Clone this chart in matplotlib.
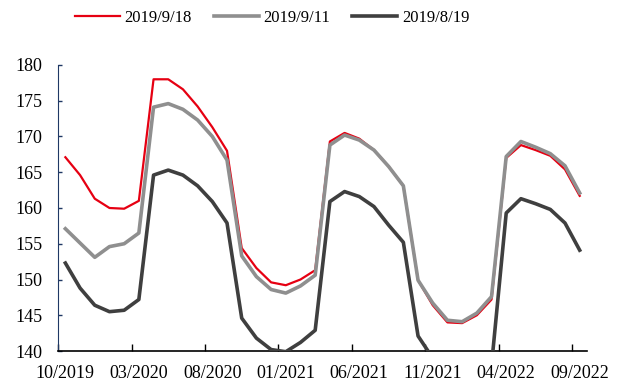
import matplotlib
matplotlib.use("Agg")
import matplotlib.pyplot as plt
import numpy as np

plt.rcParams["font.family"] = ["Liberation Serif", "DejaVu Serif"]

months = [
    "10/2019", "11/2019", "12/2019", "01/2020", "02/2020", "03/2020", "04/2020", "05/2020", "06/2020",
    "07/2020", "08/2020", "09/2020", "10/2020", "11/2020", "12/2020", "01/2021", "02/2021", "03/2021",
    "04/2021", "05/2021", "06/2021", "07/2021", "08/2021", "09/2021", "10/2021", "11/2021", "12/2021",
    "01/2022", "02/2022", "03/2022", "04/2022", "05/2022", "06/2022", "07/2022", "08/2022", "09/2022",
]

red_0918 = [
    167.1, 164.6, 161.3, 160.0, 159.9, 161.0, 178.0, 178.0, 176.6, 174.2, 171.3, 168.0,
    154.4, 151.6, 149.6, 149.2, 150.0, 151.3, 169.3, 170.5, 169.7, 168.1, 165.8, 163.1,
    149.9, 146.4, 144.0, 143.9, 145.0, 147.2, 167.0, 168.8, 168.1, 167.3, 165.4, 161.7,
]
gray_0911 = [
    157.1, 155.1, 153.1, 154.6, 155.0, 156.5, 174.1, 174.6, 173.8, 172.3, 170.0, 166.7,
    153.3, 150.4, 148.6, 148.1, 149.1, 150.6, 168.8, 170.2, 169.5, 168.1, 165.8, 163.1,
    149.9, 146.7, 144.3, 144.1, 145.3, 147.6, 167.2, 169.3, 168.5, 167.6, 165.9, 162.1,
]
dark_0819 = [
    152.3, 148.8, 146.4, 145.5, 145.7, 147.2, 164.6, 165.3, 164.6, 163.1, 160.9, 157.9,
    144.6, 141.8, 140.2, 139.9, 141.2, 142.9, 160.9, 162.3, 161.6, 160.2, 157.6, 155.2,
    142.1, 139.0, 136.0, 135.5, 136.5, 138.0, 159.3, 161.3, 160.6, 159.8, 157.9, 154.1,
]

series_labels = ["2019/9/18", "2019/9/11", "2019/8/19"]

fig = plt.figure(figsize=(6.18, 3.85), dpi=100)
ax = fig.add_axes([0.0939, 0.0883, 0.856, 0.7429])

x = np.arange(len(months))
ax.plot(x, red_0918, color="#E60012", linewidth=1.6, label=series_labels[0], zorder=3)
ax.plot(x, gray_0911, color="#8F8F8F", linewidth=2.6, label=series_labels[1], zorder=4)
ax.plot(x, dark_0819, color="#3F3F3F", linewidth=2.6, label=series_labels[2], zorder=5)

ax.set_xlim(-0.5, len(months) - 0.5)
ax.set_ylim(140, 180)
ax.set_yticks(np.arange(140, 181, 5))

# labels sit on the month, tick marks on the boundary before it
label_idx = list(range(0, len(months), 5))
ax.set_xticks([i - 0.5 for i in label_idx])
ax.set_xticklabels([])
ax.set_xticks(label_idx, minor=True)
ax.set_xticklabels([months[i] for i in label_idx], minor=True)
ax.tick_params(axis="x", which="major", direction="in", length=5, width=1, color="black")
ax.tick_params(axis="x", which="minor", length=0, pad=10, labelsize=13)
ax.tick_params(axis="y", direction="in", length=3, width=1, color="#1F3864", pad=11, labelsize=13)

for side in ["top", "right"]:
    ax.spines[side].set_visible(False)
ax.spines["left"].set_color("#1F3864")
ax.spines["bottom"].set_color("black")
ax.spines["bottom"].set_linewidth(1.2)

fig.legend(
    loc="center",
    bbox_to_anchor=(272 / 618, 1 - 18 / 385),
    ncol=3,
    frameon=False,
    fontsize=12,
    handlelength=2.7,
    handletextpad=0.3,
    columnspacing=1.3,
)

fig.savefig("out.png", dpi=100)
